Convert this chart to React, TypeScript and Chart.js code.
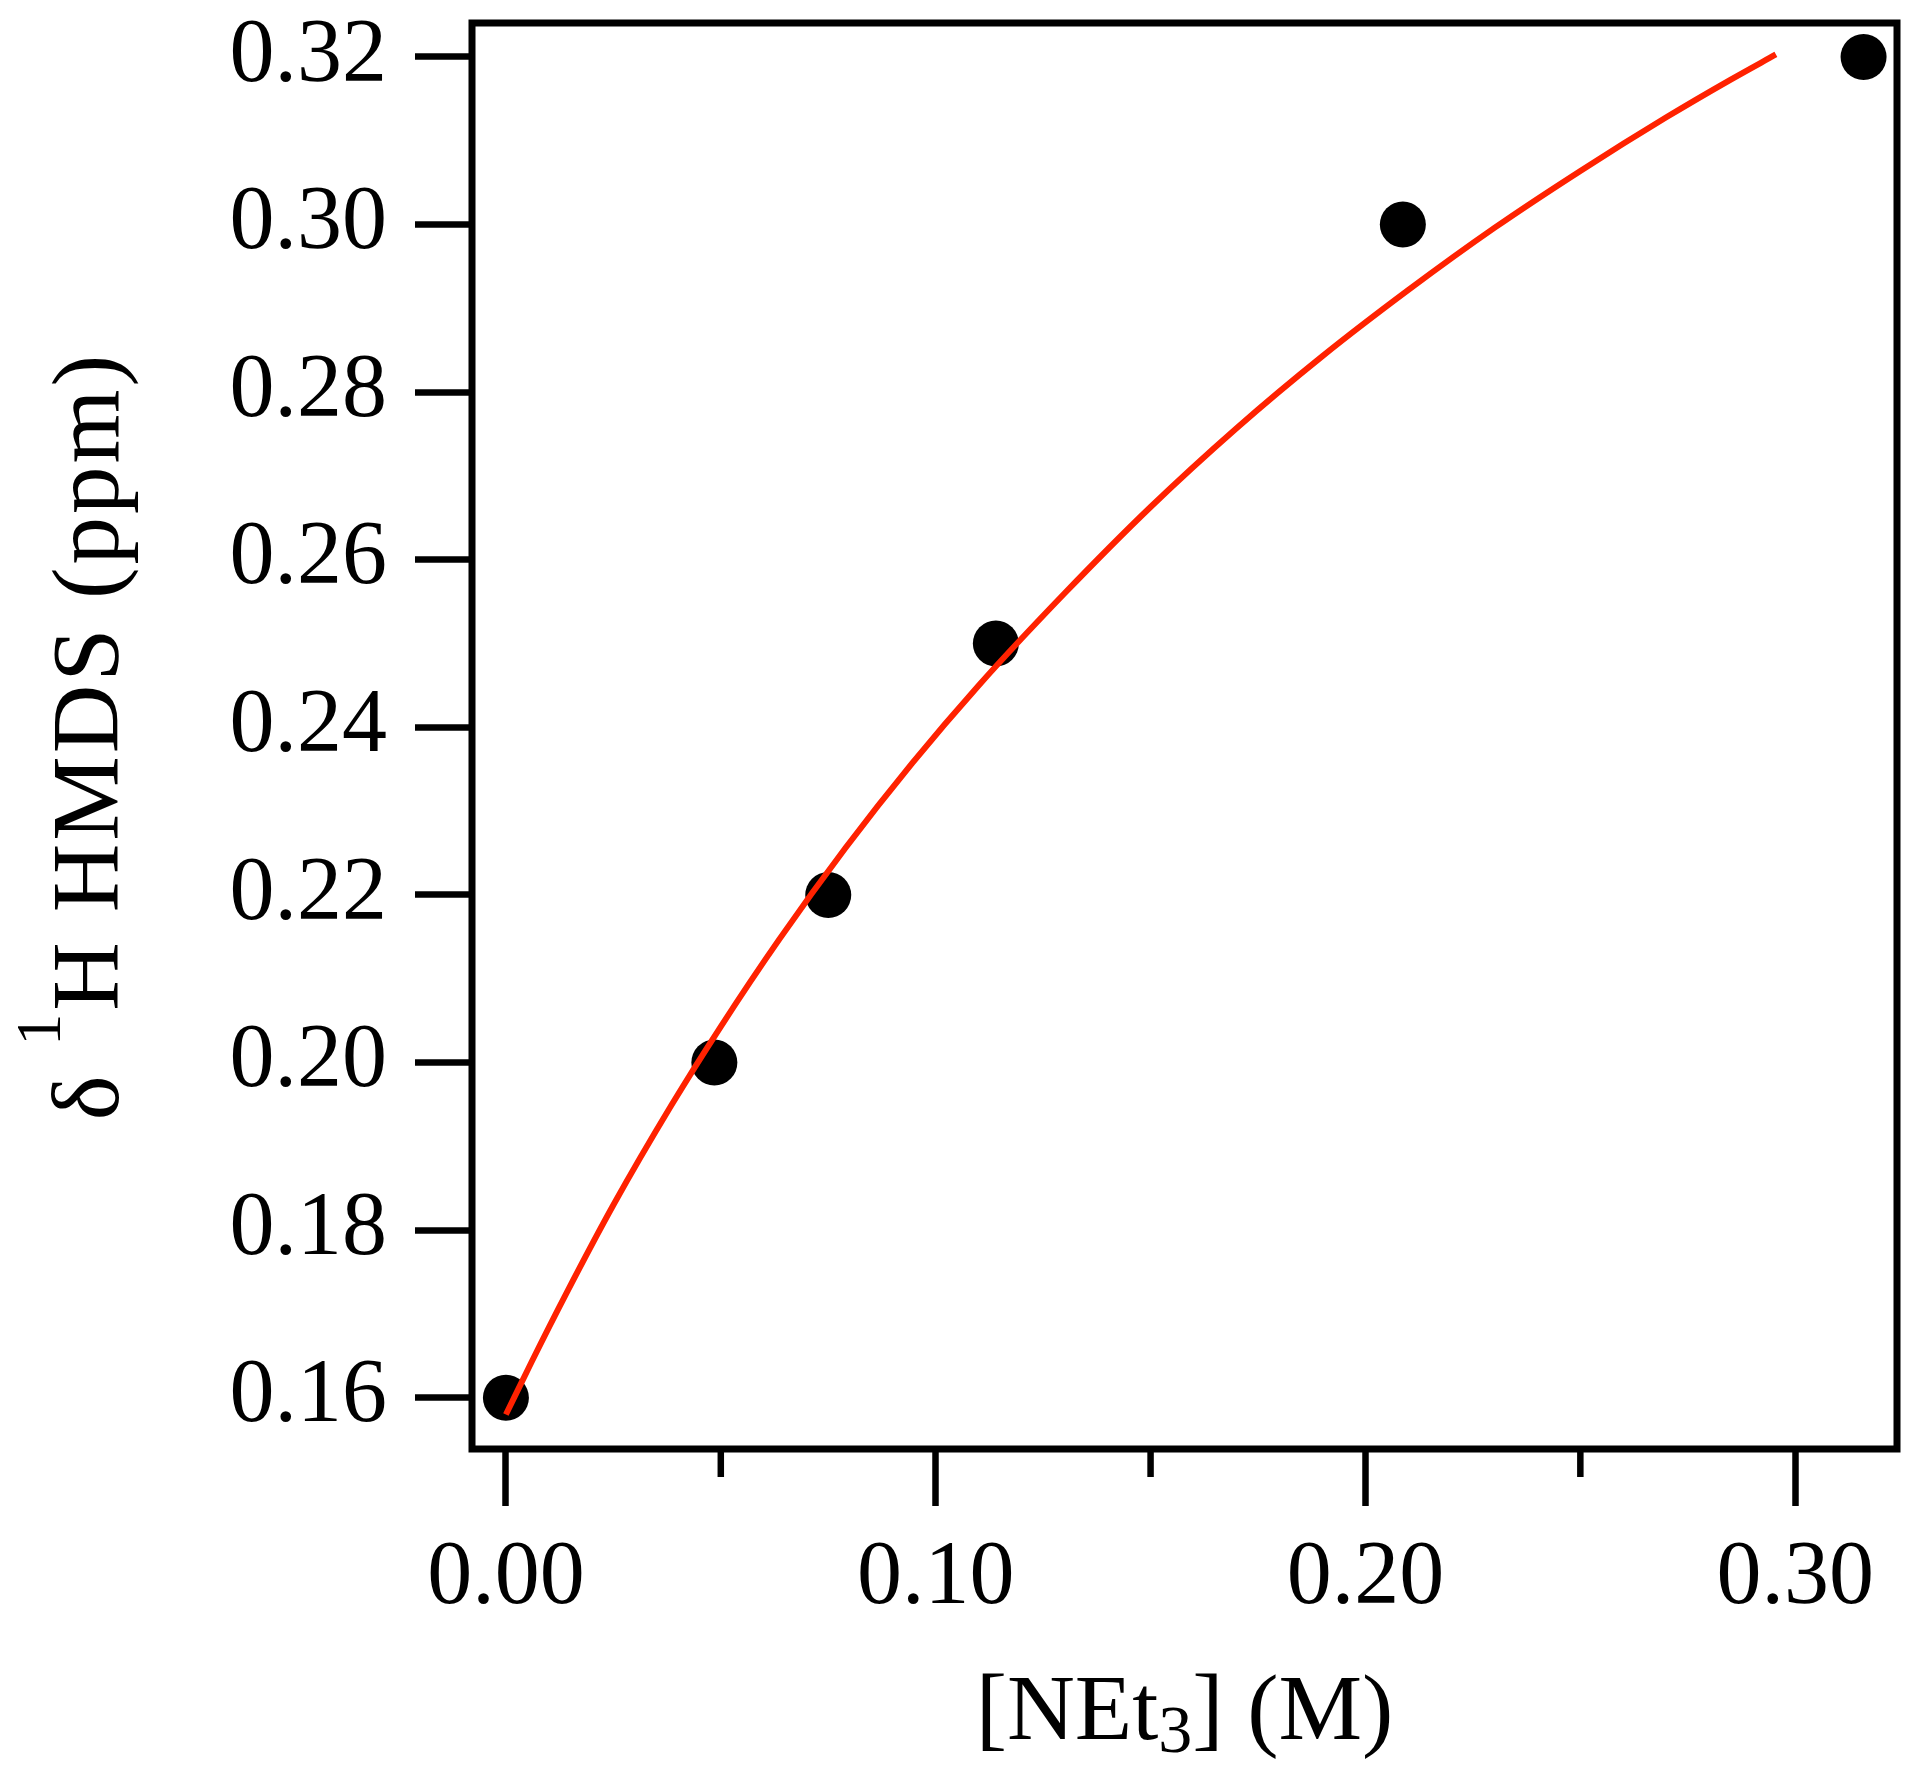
import React, { useEffect, useRef } from "react";
import { Chart, registerables } from "chart.js";

Chart.register(...registerables);

// Measured data: [NEt3] (M) vs δ 1H HMDS (ppm)
const concX = [0.0, 0.0485, 0.075, 0.114, 0.2087, 0.3159];
const shiftY = [0.16, 0.2, 0.22, 0.25, 0.3, 0.32];

// Fitted curve
const fitX = [0.0, 0.006, 0.014, 0.025, 0.0385, 0.05, 0.0636, 0.079, 0.0945, 0.11, 0.13, 0.15, 0.17, 0.19, 0.21, 0.23, 0.25, 0.27, 0.285, 0.2955];
const fitY = [0.158, 0.1643, 0.1724, 0.183, 0.1949, 0.2043, 0.2147, 0.2256, 0.2357, 0.245, 0.256, 0.2663, 0.2757, 0.2843, 0.2922, 0.2996, 0.3064, 0.3128, 0.3173, 0.3203];

const xMajorTicks = [0.0, 0.1, 0.2, 0.3];
const xMinorTicks = [0.05, 0.15, 0.25];
const yTicks = [0.16, 0.18, 0.2, 0.22, 0.24, 0.26, 0.28, 0.3, 0.32];

const FONT = "'Liberation Serif', 'Times New Roman', serif";

type Seg = { t: string; size: number; dy: number };

function drawSegs(ctx: CanvasRenderingContext2D, segs: Seg[], cx: number, baseY: number) {
  let total = 0;
  const widths: number[] = [];
  for (const s of segs) {
    ctx.font = `${s.size}px ${FONT}`;
    const w = ctx.measureText(s.t).width;
    widths.push(w);
    total += w;
  }
  let x = cx - total / 2;
  segs.forEach((s, i) => {
    ctx.font = `${s.size}px ${FONT}`;
    ctx.fillText(s.t, x, baseY + s.dy);
    x += widths[i];
  });
}

const framePlugin = {
  id: "frameAndTitles",
  afterDraw(chart: any) {
    const { ctx, chartArea } = chart;
    const xs = chart.scales.x;
    ctx.save();
    // frame
    ctx.strokeStyle = "#000";
    ctx.lineWidth = 7;
    ctx.lineJoin = "miter";
    ctx.strokeRect(chartArea.left, chartArea.top, chartArea.right - chartArea.left, chartArea.bottom - chartArea.top);
    // minor x ticks
    ctx.lineWidth = 6.5;
    ctx.lineCap = "butt";
    for (const v of xMinorTicks) {
      const px = xs.getPixelForValue(v);
      ctx.beginPath();
      ctx.moveTo(px, chartArea.bottom);
      ctx.lineTo(px, chartArea.bottom + 28);
      ctx.stroke();
    }
    // titles
    ctx.fillStyle = "#000";
    ctx.textBaseline = "alphabetic";
    ctx.textAlign = "left";
    const cx = (chartArea.left + chartArea.right) / 2;
    drawSegs(
      ctx,
      [
        { t: "[NEt", size: 94, dy: 0 },
        { t: "3", size: 68, dy: 13 },
        { t: "] (M)", size: 94, dy: 0 },
      ],
      cx,
      1739
    );
    const cy = (chartArea.top + chartArea.bottom) / 2;
    ctx.translate(118, cy);
    ctx.rotate(-Math.PI / 2);
    try {
      (ctx as any).letterSpacing = "3px";
    } catch (e) {}
    drawSegs(
      ctx,
      [
        { t: "δ ", size: 95, dy: 0 },
        { t: "1", size: 64, dy: -58 },
        { t: "H HMDS (ppm)", size: 95, dy: 0 },
      ],
      0,
      0
    );
    ctx.restore();
  },
};

export default function App() {
  const ref = useRef<HTMLCanvasElement>(null);
  useEffect(() => {
    if (!ref.current) return;
    const chart = new Chart(ref.current, {
      type: "scatter",
      data: {
        datasets: [
          {
            type: "line",
            label: "fit",
            data: fitX.map((x, i) => ({ x, y: fitY[i] })),
            borderColor: "#ff2200",
            borderWidth: 6,
            pointRadius: 0,
            cubicInterpolationMode: "monotone",
            fill: false,
          } as any,
          {
            label: "data",
            data: concX.map((x, i) => ({ x, y: shiftY[i] })),
            backgroundColor: "#000",
            borderWidth: 0,
            pointRadius: 23,
            pointHoverRadius: 23,
          },
        ],
      },
      options: {
        responsive: false,
        animation: false,
        events: [],
        layout: { padding: 0 },
        plugins: { legend: { display: false }, tooltip: { enabled: false } },
        scales: {
          x: {
            type: "linear",
            min: -0.00789,
            max: 0.32368,
            afterFit: (s: any) => {
              s.height = 324;
              s.paddingLeft = 0;
              s.paddingRight = 20;
            },
            afterBuildTicks: (s: any) => {
              s.ticks = xMajorTicks.map((v) => ({ value: v }));
            },
            border: { display: false },
            grid: {
              display: true,
              drawOnChartArea: false,
              drawTicks: true,
              tickLength: 57,
              tickWidth: 6.5,
              tickColor: "#000",
            },
            ticks: {
              padding: 19,
              color: "#000",
              font: { family: FONT, size: 90 },
              maxRotation: 0,
              callback: (v: any) => Number(v).toFixed(2),
            },
          },
          y: {
            type: "linear",
            min: 0.15389,
            max: 0.32405,
            afterFit: (s: any) => {
              s.width = 472;
              s.paddingTop = 20;
              s.paddingBottom = 0;
            },
            afterBuildTicks: (s: any) => {
              s.ticks = yTicks.map((v) => ({ value: v }));
            },
            border: { display: false },
            grid: {
              display: true,
              drawOnChartArea: false,
              drawTicks: true,
              tickLength: 57,
              tickWidth: 6.5,
              tickColor: "#000",
            },
            ticks: {
              padding: 28,
              color: "#000",
              font: { family: FONT, size: 90 },
              callback: (v: any) => Number(v).toFixed(2),
            },
          },
        },
      },
      plugins: [framePlugin],
    });
    return () => chart.destroy();
  }, []);
  return (
    <div style={{ position: "absolute", left: 0, top: 0, width: 1920, height: 1773, background: "#fff" }}>
      <canvas ref={ref} width={1920} height={1773} style={{ display: "block" }} />
    </div>
  );
}
